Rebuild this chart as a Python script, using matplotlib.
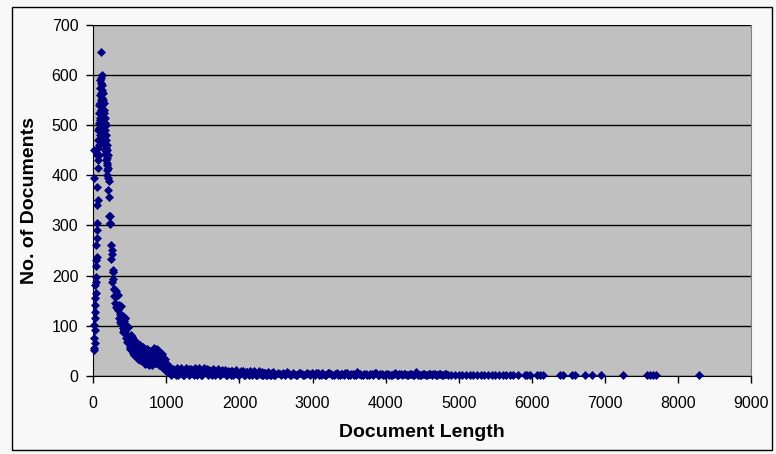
import matplotlib.pyplot as plt
import matplotlib.patches as mpatches

# document length vs number of documents
# rising edge at very short lengths
len_a = [14, 10, 18, 12, 22, 16, 26, 20, 30, 24, 34, 28, 38, 32, 42, 36, 46, 40, 50, 44, 54, 48, 58, 52, 8, 56, 12]
cnt_a = [52, 56, 66, 76, 92, 102, 115, 128, 141, 155, 165, 182, 187, 198, 218, 231, 236, 261, 275, 291,
         305, 341, 351, 377, 395, 440, 450]

# peak
len_b = [62, 64, 66, 68, 70, 72, 74, 76, 78, 80, 82, 84, 86, 88, 90, 92, 94, 96, 98, 100,
         102, 104, 106, 108, 110, 112, 114, 116, 118, 120, 122, 124, 126, 128, 130, 132, 134, 136, 138, 140,
         142, 144, 146, 148, 150, 152, 154, 156, 158, 160, 162, 164, 166, 168, 170, 172, 174, 176, 178, 180,
         182, 184, 186, 188, 190, 192, 194, 196, 198, 200]
cnt_b = [430, 470, 415, 455, 490, 440, 505, 470, 525, 460, 540, 495, 515, 560, 480, 545, 575, 510, 590, 530,
         565, 595, 647, 550, 585, 520, 600, 540, 570, 500, 555, 580, 515, 545, 490, 565, 530, 505, 550, 475,
         525, 545, 490, 515, 465, 530, 480, 505, 450, 490, 515, 460, 480, 440, 500, 455, 470, 430, 480, 445,
         420, 460, 435, 410, 450, 425, 400, 440, 415, 395]

# steep fall
len_c = [205, 215, 225, 235, 245, 255, 265, 275, 285, 295, 305, 315, 325, 335, 345, 355, 365, 375, 385, 395,
         405, 415, 425, 435, 445, 455, 465, 475, 485, 495, 505, 515, 525, 535, 545, 555, 565, 575, 585, 595,
         605, 615, 625, 635, 645, 655, 665, 675, 685, 695, 705, 715, 725, 735, 745, 755, 765, 775, 785, 795,
         805, 815, 825, 835, 845, 855, 865, 875, 885, 895, 905, 915, 925, 935, 945, 955, 965, 975, 985, 995, 1005]
cnt_c = [370, 357, 302, 305, 232, 243, 194, 207, 160, 171, 137, 159, 136, 161, 116, 142, 123, 140, 103, 116,
         87, 109, 91, 115, 75, 99, 82, 98, 65, 78, 53, 72, 57, 78, 45, 67, 54, 69, 42, 54,
         34, 53, 41, 62, 32, 54, 41, 57, 32, 44, 24, 45, 33, 54, 24, 46, 33, 49, 25, 39,
         21, 43, 32, 55, 26, 50, 38, 53, 28, 40, 21, 39, 27, 44, 18, 36, 26, 34, 15, 26, 8]
len_c2 = [210, 220, 230, 240, 250, 260, 270, 280, 290, 300, 310, 320, 330, 340, 350, 360, 370, 380, 390, 400,
          410, 420, 430, 440, 450, 460, 470, 480, 490, 500, 510, 520, 530, 540, 550, 560, 570, 580, 590, 600,
          610, 620, 630, 640, 650, 660, 670, 680, 690, 700, 710, 720, 730, 740, 750, 760, 770, 780, 790, 800,
          810, 820, 830, 840, 850, 860, 870, 880, 890, 900, 910, 920, 930, 940, 950, 960, 970, 980, 990, 1000]
cnt_c2 = [388, 318, 319, 260, 250, 188, 210, 173, 173, 145, 170, 137, 163, 132, 140, 107, 140, 111, 116, 95,
          119, 91, 116, 89, 97, 67, 98, 73, 77, 58, 81, 58, 78, 57, 65, 41, 69, 48, 53, 38,
          60, 40, 62, 43, 51, 30, 56, 37, 43, 30, 51, 31, 53, 34, 42, 22, 48, 30, 37, 25,
          48, 30, 53, 36, 46, 26, 52, 33, 39, 26, 45, 27, 45, 28, 35, 15, 33, 21, 24, 11]

# long tail
len_d = [1015, 1040, 1065, 1090, 1115, 1140, 1165, 1190, 1215, 1240, 1265, 1290, 1315, 1340, 1365, 1390,
         1415, 1440, 1465, 1490, 1515, 1540, 1565, 1590, 1615, 1640, 1665, 1690, 1715, 1740, 1765, 1790,
         1815, 1840, 1865, 1890, 1915, 1940, 1965, 1990, 2015, 2040, 2065, 2090, 2115, 2140, 2165, 2190,
         2215, 2240, 2265, 2290, 2315, 2340, 2365, 2390, 2415, 2440, 2465, 2490]
cnt_d = [22, 11, 2, 14, 5, 16, 1, 10, 6, 2, 16, 9, 2, 13, 5, 15, 1, 10, 6, 2, 15, 8, 1, 11, 4, 13, 1, 8, 5, 2,
         12, 7, 1, 10, 4, 10, 1, 7, 4, 2, 10, 6, 1, 8, 3, 9, 1, 6, 4, 1, 9, 4, 1, 6, 2, 8, 1, 5, 3, 1]
len_d2 = [1028, 1053, 1078, 1103, 1128, 1153, 1178, 1203, 1228, 1253, 1278, 1303, 1328, 1353, 1378, 1403,
          1428, 1453, 1478, 1503, 1528, 1553, 1578, 1603, 1628, 1653, 1678, 1703, 1728, 1753, 1778, 1803,
          1828, 1853, 1878, 1903, 1928, 1953, 1978, 2003, 2028, 2053, 2078, 2103, 2128, 2153, 2178, 2203,
          2228, 2253, 2278, 2303, 2328, 2353, 2378, 2403, 2428, 2453, 2478]
cnt_d2 = [11, 18, 4, 12, 1, 14, 6, 16, 2, 10, 8, 14, 3, 11, 1, 14, 6, 16, 2, 9, 7, 13, 3, 10, 1, 11, 5, 13, 2, 7,
          6, 11, 2, 8, 1, 9, 4, 11, 2, 6, 5, 9, 2, 7, 1, 8, 3, 9, 1, 5, 4, 7, 2, 6, 1, 6, 2, 7, 1]

len_e = [2530, 2570, 2610, 2650, 2690, 2730, 2770, 2810, 2850, 2890, 2930, 2970, 3010, 3050, 3090, 3130,
         3170, 3210, 3250, 3290, 3330, 3370, 3410, 3450, 3490, 3530, 3570, 3610, 3650, 3690, 3730, 3770,
         3810, 3850, 3890, 3930, 3970, 4010, 4050, 4090, 4130, 4170, 4210, 4250, 4290, 4330, 4370, 4410,
         4450, 4490, 4530, 4570, 4610, 4650, 4690, 4730, 4770, 4810, 4850]
cnt_e = [6, 1, 4, 7, 2, 5, 1, 6, 3, 2, 5, 1, 4, 6, 2, 5, 1, 5, 3, 2, 5, 1, 3, 5, 2, 4, 1, 8, 3, 1,
         4, 1, 3, 5, 2, 4, 1, 4, 2, 1, 5, 1, 3, 4, 2, 4, 1, 7, 2, 1, 4, 1, 3, 4, 2, 3, 1, 4, 2]
len_e2 = [2550, 2590, 2630, 2670, 2710, 2750, 2790, 2830, 2870, 2910, 2950, 2990, 3030, 3070, 3110, 3150,
          3190, 3230, 3270, 3310, 3350, 3390, 3430, 3470, 3510, 3550, 3590, 3630, 3670, 3710, 3750, 3790,
          3830, 3870, 3910, 3950, 3990, 4030, 4070, 4110, 4150, 4190, 4230, 4270, 4310, 4350, 4390, 4430,
          4470, 4510, 4550, 4590, 4630, 4670, 4710, 4750, 4790, 4830]
cnt_e2 = [3, 5, 2, 6, 1, 4, 2, 5, 1, 3, 3, 5, 2, 5, 1, 4, 2, 5, 1, 3,
          2, 4, 1, 5, 1, 4, 2, 4, 1, 3, 2, 4, 1, 5, 1, 3, 2, 4, 1, 3,
          2, 4, 1, 4, 1, 3, 2, 4, 1, 3, 2, 3, 1, 4, 1, 3, 2, 3]

len_f = [4900, 4950, 5000, 5050, 5100, 5150, 5200, 5250, 5300, 5350, 5400, 5450, 5500, 5550, 5600, 5650, 5700, 5750,
         5816, 5908, 5939, 5976, 6076, 6112, 6149, 6386, 6431, 6546, 6591, 6728, 6820, 6947,
         7252, 7581, 7617, 7663, 7700, 8292]
cnt_f = [2, 1, 1, 2, 1, 1, 1, 2, 1, 1, 1, 1, 2, 1, 1, 1, 1, 1,
         1, 1, 1, 1, 1, 1, 1, 1, 1, 1, 1, 1, 1, 1,
         1, 1, 1, 1, 1, 1]

lengths = len_a + len_b + len_c + len_c2 + len_d + len_d2 + len_e + len_e2 + len_f
counts = cnt_a + cnt_b + cnt_c + cnt_c2 + cnt_d + cnt_d2 + cnt_e + cnt_e2 + cnt_f

plt.rcParams['font.family'] = 'Liberation Sans'

fig = plt.figure(figsize=(7.76, 4.54), dpi=100, facecolor='#f8f8f8')
ax = fig.add_axes([93.3 / 776, 1 - 375.7 / 454, (751 - 93.3) / 776, (375.7 - 25) / 454])
ax.set_facecolor('#c0c0c0')

ax.plot(lengths, counts, linestyle='none', marker='D', markersize=3.6,
        color='#000080', markeredgewidth=0.5, clip_on=False, zorder=3)

ax.set_xlim(0, 9000)
ax.set_ylim(0, 700)
ax.set_xticks(range(0, 9001, 1000))
ax.set_yticks(range(0, 701, 100))
ax.yaxis.grid(True, color='black', linewidth=1)
ax.set_axisbelow(True)

ax.spines['top'].set_visible(False)
ax.spines['right'].set_color('#808080')
ax.spines['left'].set_color('black')
ax.spines['bottom'].set_color('black')
ax.tick_params(axis='both', direction='out', length=4.8, width=1, labelsize=11.5)
ax.tick_params(axis='x', pad=10)
ax.tick_params(axis='y', pad=6)

ax.set_xlabel('Document Length', fontsize=14, fontweight='bold', labelpad=9)
ax.set_ylabel('No. of Documents', fontsize=14, fontweight='bold', labelpad=10)

# chart border
fig.add_artist(mpatches.Rectangle((11.5 / 776, 1 - 449.5 / 454), 760 / 776, 442.5 / 454,
                                  transform=fig.transFigure, fill=False, edgecolor='black', linewidth=1))

plt.savefig('out.png', dpi=100, facecolor=fig.get_facecolor())
